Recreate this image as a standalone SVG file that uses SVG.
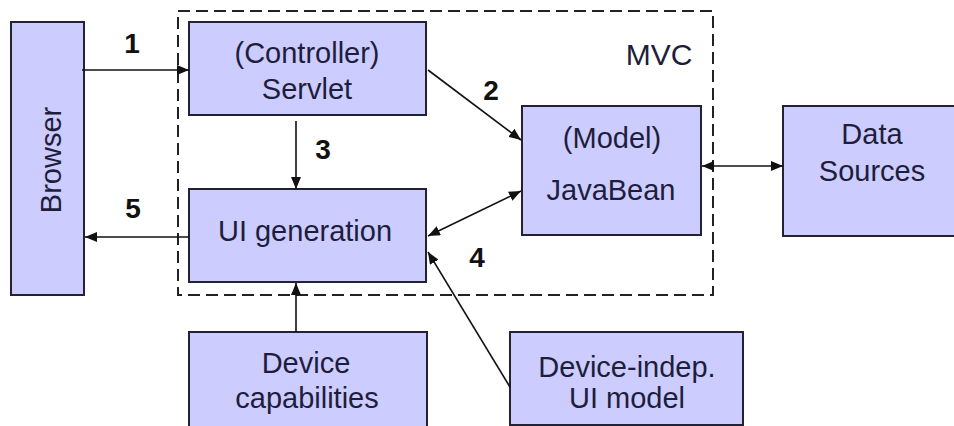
<svg xmlns="http://www.w3.org/2000/svg" width="954" height="426" viewBox="0 0 954 426">
<defs>
<style>
.box{fill:#ccccff;stroke:#222233;stroke-width:2}
.t{font-family:"Liberation Sans",Arial,sans-serif;font-size:29px;fill:#1e1e3c;text-anchor:middle}
.n{font-family:"Liberation Sans",Arial,sans-serif;font-size:28px;font-weight:bold;fill:#111;text-anchor:middle}
.c{stroke:#111;stroke-width:1.6;fill:none}
.mvc{fill:none;stroke:#222;stroke-width:2;stroke-dasharray:12 6}
</style>
<marker id="ah" viewBox="0 0 12 10" refX="12" refY="5" markerWidth="12" markerHeight="10" markerUnits="userSpaceOnUse" orient="auto-start-reverse">
<path d="M0,0 L12,5 L0,10 z" fill="#111"/>
</marker>
</defs>
<rect width="954" height="426" fill="#ffffff"/>
<g id="mvc-group">
<rect class="mvc" x="178" y="11" width="535" height="284"/>
<text class="t" x="659" y="65" style="font-size:30px">MVC</text>
</g>
<g id="browser">
<rect class="box" x="11" y="22" width="73" height="273"/>
<text class="t" transform="translate(61,160) rotate(-90)">Browser</text>
</g>
<g id="servlet">
<rect class="box" x="189" y="22" width="237" height="93"/>
<text class="t" x="307" y="63">(Controller)</text>
<text class="t" x="307" y="99">Servlet</text>
</g>
<g id="ui-generation">
<rect class="box" x="189" y="189" width="237" height="93"/>
<text class="t" x="305" y="241">UI generation</text>
</g>
<g id="model">
<rect class="box" x="522" y="106" width="179" height="129"/>
<text class="t" x="612" y="148">(Model)</text>
<text class="t" x="611" y="200">JavaBean</text>
</g>
<g id="data-sources">
<rect class="box" x="783" y="106" width="180" height="130"/>
<text class="t" x="872" y="144">Data</text>
<text class="t" x="872" y="181">Sources</text>
</g>
<g id="device-capabilities">
<rect class="box" x="189" y="332" width="238" height="100"/>
<text class="t" x="306" y="373">Device</text>
<text class="t" x="307" y="408">capabilities</text>
</g>
<g id="device-indep-ui-model">
<rect class="box" x="510" y="332" width="233" height="93"/>
<text class="t" x="627" y="377">Device-indep.</text>
<text class="t" x="627" y="408">UI model</text>
</g>
<g id="connectors">
<line class="c" x1="82" y1="70" x2="189" y2="70" marker-end="url(#ah)"/>
<line class="c" x1="428" y1="70" x2="521" y2="140" marker-end="url(#ah)"/>
<line class="c" x1="296" y1="121" x2="296" y2="189" marker-end="url(#ah)"/>
<line class="c" x1="428" y1="236" x2="521" y2="191" marker-start="url(#ah)" marker-end="url(#ah)"/>
<line class="c" x1="189" y1="237" x2="85" y2="237" marker-end="url(#ah)"/>
<line class="c" x1="702" y1="166" x2="783" y2="166" marker-start="url(#ah)" marker-end="url(#ah)"/>
<line class="c" x1="296" y1="332" x2="296" y2="283" marker-end="url(#ah)"/>
<line class="c" x1="510" y1="387" x2="428" y2="252" marker-end="url(#ah)"/>
<text class="n" x="132" y="53">1</text>
<text class="n" x="491" y="100">2</text>
<text class="n" x="323" y="159">3</text>
<text class="n" x="477" y="267">4</text>
<text class="n" x="133" y="218">5</text>
</g>
</svg>
